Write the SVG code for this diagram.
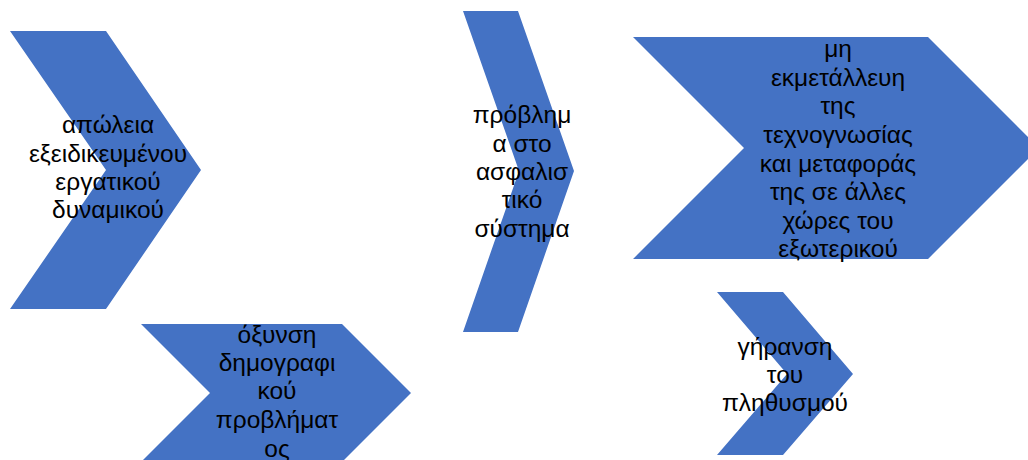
<svg xmlns="http://www.w3.org/2000/svg" width="1028" height="460" viewBox="0 0 1028 460">
<style>
.chev{fill:#4472C4;stroke:none}
.t{font-family:"Liberation Sans","DejaVu Sans",sans-serif;font-size:24.5px;fill:#000;text-anchor:middle}
</style>
<rect width="1028" height="460" fill="#fff"/>
<g id="node1">
<polygon class="chev" points="10,31 106,31 201,170 106,309 10,309 106,170"/>
<text class="t"><tspan x="108" y="133">απώλεια</tspan><tspan x="108" y="162">εξειδικευμένου</tspan><tspan x="108" y="190">εργατικού</tspan><tspan x="108" y="218">δυναμικού</tspan></text>
</g>
<g id="node2">
<polygon class="chev" points="141,324 342,324 411,393 342,462 141,462 210,393"/>
<text class="t"><tspan x="277" y="343">όξυνση</tspan><tspan x="277" y="371">δημογραφι</tspan><tspan x="277" y="399">κού</tspan><tspan x="277" y="428">προβλήματ</tspan><tspan x="277" y="457">ος</tspan></text>
</g>
<g id="node3">
<polygon class="chev" points="463,11 518,11 574,171 518,332 463,332 519,171"/>
<text class="t"><tspan x="522" y="123">πρόβλημ</tspan><tspan x="522" y="152">α στο</tspan><tspan x="522" y="180">ασφαλισ</tspan><tspan x="522" y="208">τικό</tspan><tspan x="522" y="237">σύστημα</tspan></text>
</g>
<g id="node4">
<polygon class="chev" points="633,37 928,37 1039,148 928,259 633,259 744,148"/>
<text class="t"><tspan x="838" y="57">μη</tspan><tspan x="838" y="86">εκμετάλλευη</tspan><tspan x="838" y="114">της</tspan><tspan x="838" y="143">τεχνογνωσίας</tspan><tspan x="838" y="172">και μεταφοράς</tspan><tspan x="838" y="200">της σε άλλες</tspan><tspan x="838" y="229">χώρες του</tspan><tspan x="838" y="257">εξωτερικού</tspan></text>
</g>
<g id="node5">
<polygon class="chev" points="717,292 783,292 853,374 783,455 717,455 787,374"/>
<text class="t"><tspan x="785" y="355">γήρανση</tspan><tspan x="785" y="383">του</tspan><tspan x="785" y="411">πληθυσμού</tspan></text>
</g>
<g id="connectors"></g>
</svg>
